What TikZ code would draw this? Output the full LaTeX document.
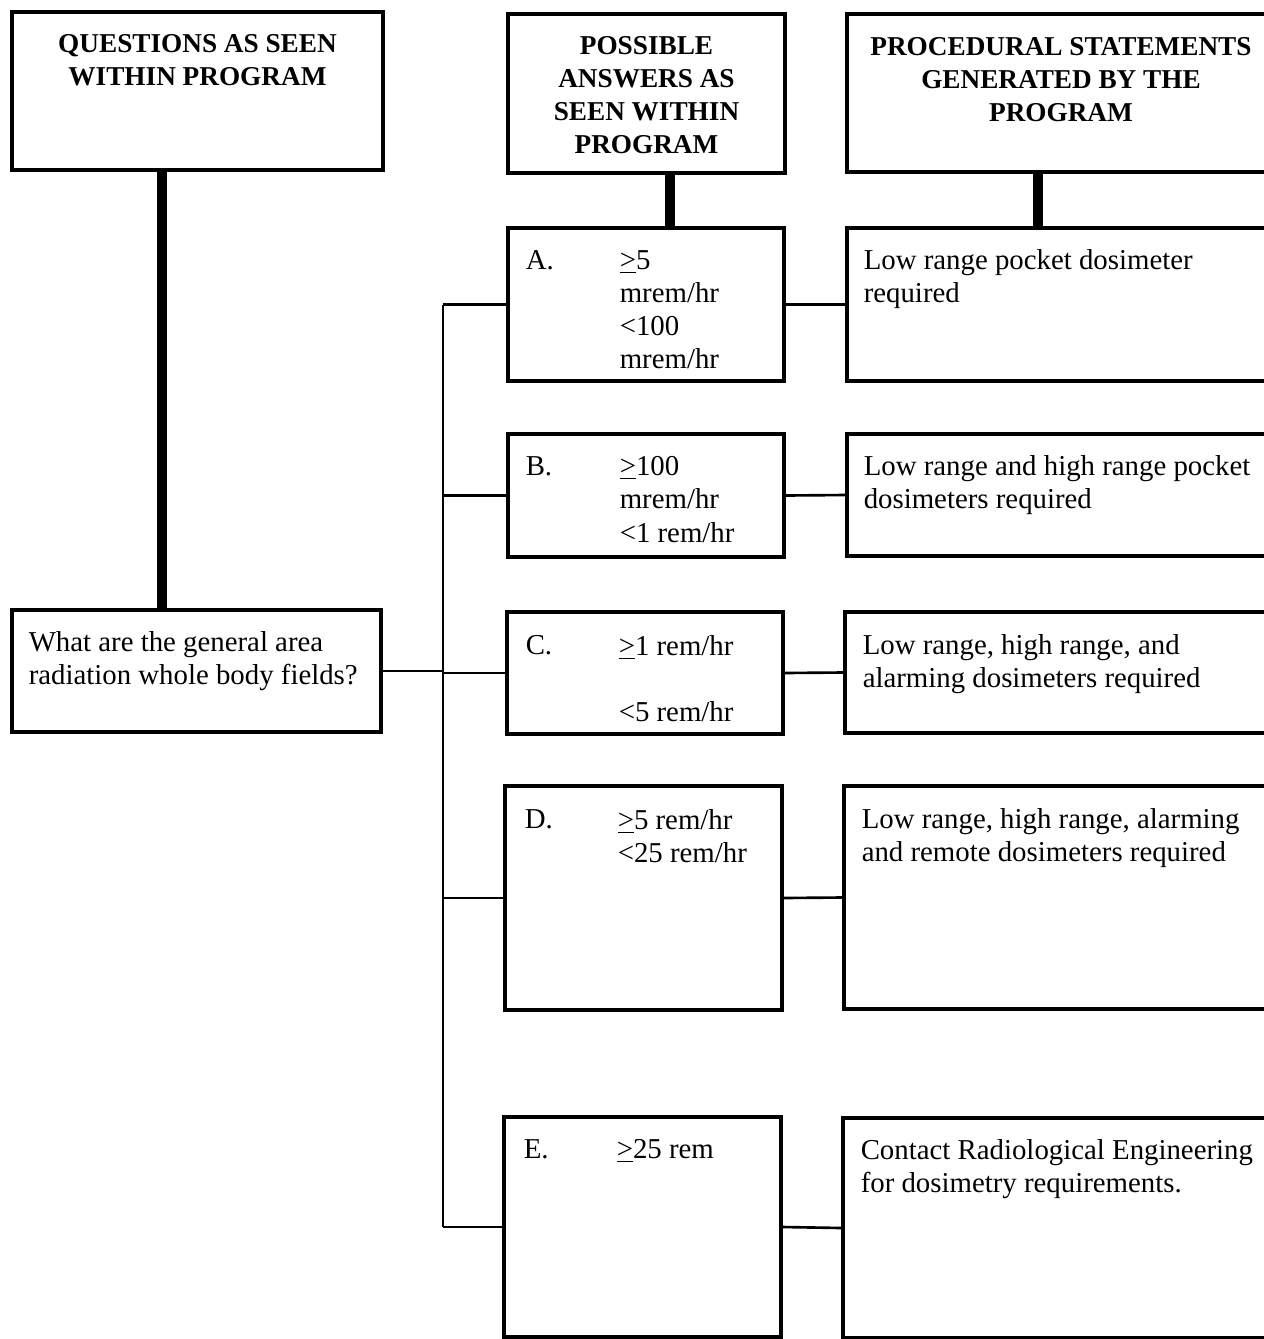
\documentclass[tikz,border=0pt]{standalone}
\usepackage{fontspec}
\setmainfont{Liberation Serif}
\usetikzlibrary{fit,calc}

\begin{document}
\begin{tikzpicture}[x=0.2mm,y=-0.2mm,
		box/.style={rectangle,draw=black,line width=1.8pt,inner sep=0pt},
		txt/.style={anchor=north west,align=left,inner sep=0pt,font=\fontsize{16.4}{18.8}\selectfont},
		head/.style={anchor=north,align=center,inner sep=0pt,font=\fontsize{15.5}{18.8}\selectfont\bfseries},
		link/.style={line width=1.5pt},
		stem/.style={line width=5.5pt}]
		\useasboundingbox (0,0) rectangle (1264,1339);
		\clip (0,0) rectangle (1264,1339);

		% column headers
		\node[box,fit={(12,12) (383,170)}]   (qhead) {};
		\node[box,fit={(508,14) (785,173)}]  (ahead) {};
		\node[box,fit={(847,14) (1290,172)}] (phead) {};
		\node[head] at ($(qhead.north)+(0,24)$) {QUESTIONS AS SEEN\\WITHIN PROGRAM};
		\node[head] at ($(ahead.north)+(0,24)$) {POSSIBLE\\ANSWERS AS\\SEEN WITHIN\\PROGRAM};
		\node[head] at (1061,37) {PROCEDURAL STATEMENTS\\GENERATED BY THE\\PROGRAM};

		% question
		\node[box,fit={(12,610) (381,732)}] (qbox) {};
		\node[txt] at ($(qbox.north west)+(18,23)$) {What are the general area\\radiation whole body fields?};

		% answers
		\node[box,fit={(508,228) (784,381)}]  (ansa) {};
		\node[box,fit={(508,434) (784,557)}]  (ansb) {};
		\node[box,fit={(507,612) (783,734)}]  (ansc) {};
		\node[box,fit={(505,786) (782,1010)}] (ansd) {};
		\node[box,fit={(504,1117) (781,1337)}] (anse) {};

		\node[txt] at ($(ansa.north west)+(19,24)$) {A.};
		\node[txt] at ($(ansa.north west)+(113,24)$) {\underline{>}5\\mrem/hr\\<100\\mrem/hr};
		\node[txt] at ($(ansb.north west)+(19,24)$) {B.};
		\node[txt] at ($(ansb.north west)+(113,24)$) {\underline{>}100\\mrem/hr\\<1 rem/hr};
		\node[txt] at ($(ansc.north west)+(20,25)$) {C.};
		\node[txt] at ($(ansc.north west)+(113,25)$) {\underline{>}1 rem/hr\\\mbox{}\\<5 rem/hr};
		\node[txt] at ($(ansd.north west)+(21,25)$) {D.};
		\node[txt] at ($(ansd.north west)+(114,25)$) {\underline{>}5 rem/hr\\<25 rem/hr};
		\node[txt] at ($(anse.north west)+(21,24)$) {E.};
		\node[txt] at ($(anse.north west)+(114,24)$) {\underline{>}25 rem};

		% statements
		\node[box,fit={(847,228) (1290,381)}]  (proca) {};
		\node[box,fit={(847,434) (1290,556)}]  (procb) {};
		\node[box,fit={(845,612) (1290,733)}]  (procc) {};
		\node[box,fit={(844,786) (1290,1009)}] (procd) {};
		\node[box,fit={(843,1118) (1290,1338)}] (proce) {};

		\node[txt] at ($(proca.north west)+(18,23)$) {Low range pocket dosimeter\\required};
		\node[txt] at ($(procb.north west)+(18,23)$) {Low range and high range pocket\\dosimeters required};
		\node[txt] at ($(procc.north west)+(19,24)$) {Low range, high range, and\\alarming dosimeters required};
		\node[txt] at ($(procd.north west)+(19,24)$) {Low range, high range, alarming\\and remote dosimeters required};
		\node[txt] at ($(proce.north west)+(19,23)$) {Contact Radiological Engineering\\for dosimetry requirements.};

		% stems from the headers
		\coordinate (qstem) at (162,0);
		\coordinate (astem) at (670,0);
		\coordinate (pstem) at (1038,0);
		\draw[stem] (qstem |- qhead.south) -- (qstem |- qbox.north);
		\draw[stem] (astem |- ahead.south) -- (astem |- ansa.north);
		\draw[stem] (pstem |- phead.south) -- (pstem |- proca.north);

		% bus and branches
		\coordinate (bus) at (443,0);
		\draw[link] (ansa.west -| bus) -- (anse.west -| bus);
		\draw[link] (qbox.east) -- (qbox.east -| bus);
		\foreach \n in {a,b,c,d,e}{
			\draw[link] (ans\n.west) -- (ans\n.west -| bus);
			\draw[link] (ans\n.east) -- (proc\n.west);
		}
\end{tikzpicture}
\end{document}
